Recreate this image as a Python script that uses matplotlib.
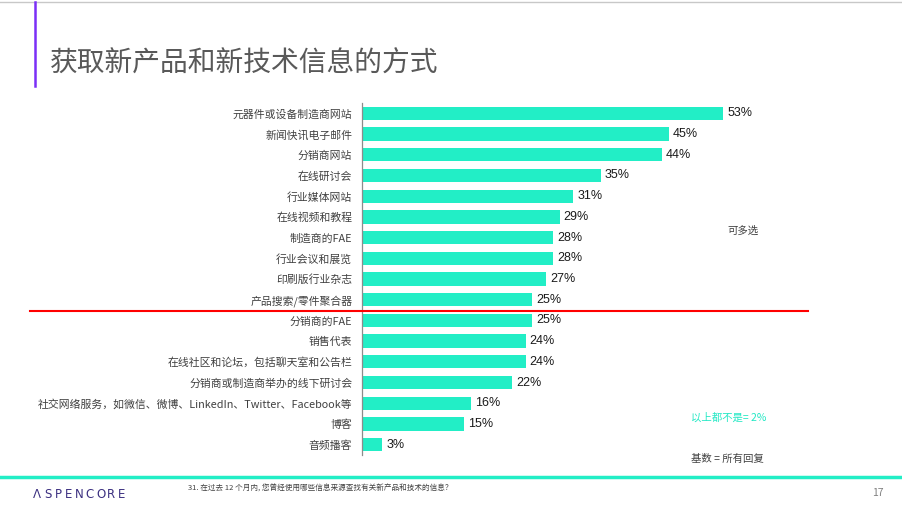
import matplotlib.pyplot as plt
from matplotlib.lines import Line2D

plt.rcParams['font.family'] = ['Noto Sans CJK SC', 'DejaVu Sans']

# data
categories = ['元器件或设备制造商网站', '新闻快讯电子邮件', '分销商网站', '在线研讨会', '行业媒体网站',
              '在线视频和教程', '制造商的FAE', '行业会议和展览', '印刷版行业杂志', '产品搜索/零件聚合器',
              '分销商的FAE', '销售代表', '在线社区和论坛，包括聊天室和公告栏', '分销商或制造商举办的线下研讨会',
              '社交网络服务，如微信、微博、LinkedIn、Twitter、Facebook等', '博客', '音频播客']
values = [53, 45, 44, 35, 31, 29, 28, 28, 27, 25, 25, 24, 24, 22, 16, 15, 3]

bar_color = '#22eec6'
W, H = 902, 508

fig = plt.figure(figsize=(W / 100, H / 100), dpi=100)
ax = fig.add_axes([362 / W, 1 - 455 / H, 443 / W, 352 / H])

pos = list(range(len(categories)))
ax.barh(pos, values, height=0.64, color=bar_color)
ax.set_xlim(0, 65)
ax.set_ylim(len(categories) - 0.5, -0.5)
ax.set_yticks(pos)
ax.set_yticklabels(categories, fontsize=7.8, color='#404040')
ax.tick_params(axis='y', length=0, pad=7)
ax.set_xticks([])
for s in ['top', 'right', 'bottom']:
    ax.spines[s].set_visible(False)
ax.spines['left'].set_color('#8c8c8c')
ax.spines['left'].set_linewidth(0.9)

for p, v in zip(pos, values):
    ax.text(v + 0.6, p, f'{v}%', va='center', ha='left', fontsize=9, color='#1a1a1a',
            family=['Liberation Sans', 'DejaVu Sans'])

# decorations
fig.add_artist(Line2D([0, 1], [1 - 1.5 / H] * 2, color='#c8c8c8', lw=1))
fig.add_artist(Line2D([34.5 / W] * 2, [1 - 2 / H, 1 - 86 / H], color='#7b2ff7', lw=1.8))
fig.add_artist(Line2D([30 / W, 808 / W], [1 - 310.5 / H] * 2, color='#ff0000', lw=1.5))
fig.add_artist(Line2D([0, 1], [1 - 477 / H] * 2, color=bar_color, lw=2.5))

fig.text(50 / W, 1 - 64 / H, '获取新产品和新技术信息的方式', fontsize=20, color='#595959', va='center')
fig.text(743 / W, 1 - 231 / H, '可多选', fontsize=7.5, color='#404040', style='italic', va='center', ha='center')
fig.text(691 / W, 1 - 418 / H, '以上都不是= 2%', fontsize=7.5, color='#22e8c4', va='center')
fig.text(691 / W, 1 - 459 / H, '基数 = 所有回复', fontsize=7.5, color='#404040', va='center')
for i, ch in enumerate('ΛSPENCORE'):
    fig.text((37 + i * 10.6) / W, 1 - 494 / H, ch, fontsize=8.5, color='#3b2f80', va='center',
             ha='center', family=['DejaVu Sans'])
fig.text(188 / W, 1 - 489 / H, '31. 在过去 12 个月内, 您曾经使用哪些信息来源查找有关新产品和技术的信息？',
         fontsize=5.5, color='#404040', va='center')
fig.text(878 / W, 1 - 493 / H, '17', fontsize=7.5, color='#808080', va='center', ha='center')

fig.savefig('out.png', dpi=100)
